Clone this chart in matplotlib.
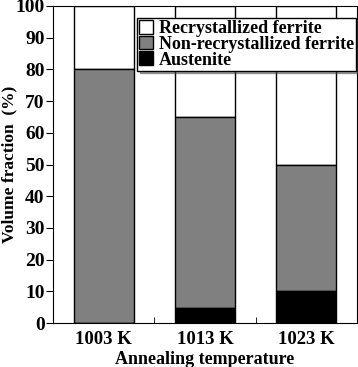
import matplotlib
matplotlib.use("Agg")
import matplotlib.pyplot as plt
import numpy as np

plt.rcParams['font.family'] = ['Liberation Serif', 'DejaVu Serif']
plt.rcParams['font.weight'] = 'bold'

temps = ['1003 K', '1013 K', '1023 K']
austenite = [0, 4.7, 10]
non_recryst = [80, 60.3, 40]
recryst = [20, 35, 50]

x = np.arange(len(temps))
w = 0.59

fig = plt.figure(figsize=(3.58, 3.67), dpi=100)
ax = fig.add_axes([53/358, 44/367, 304/358, 317/367])

aus = np.array(austenite)
non = np.array(non_recryst)
ax.bar(x, recryst, w, bottom=aus + non, color='white', edgecolor='black', lw=1, label='Recrystallized ferrite')
ax.bar(x, non_recryst, w, bottom=aus, color='#808080', edgecolor='black', lw=1, label='Non-recrystallized ferrite')
ax.bar(x, austenite, w, color='black', edgecolor='black', lw=1, label='Austenite')

ax.set_xlim(-0.5, 2.5)
ax.set_ylim(0, 100)
ax.set_yticks(range(0, 101, 10))
ax.set_xticks(x)
ax.set_xticklabels(temps)
ax.set_xticks([0.5, 1.5], minor=True)
ax.tick_params(axis='x', which='major', length=0, labelsize=13.5, pad=6)
ax.tick_params(axis='x', which='minor', direction='in', length=4)
ax.tick_params(axis='y', direction='out', length=5, labelsize=14, pad=1)
ax.set_xlabel('Annealing temperature', fontsize=13, fontweight='bold', labelpad=2)
ax.set_ylabel('Volume fraction  (%)', fontsize=12.5, fontweight='bold')
ax.yaxis.set_label_coords(-0.118, 0.5)

leg = ax.legend(loc='upper right', bbox_to_anchor=(1.0, 0.966), fontsize=13, frameon=True,
                fancybox=False, shadow=True, handlelength=0.8, handleheight=0.8,
                handletextpad=0.3, labelspacing=-0.08, borderpad=0.12, borderaxespad=0.05)
leg.get_frame().set_edgecolor('black')
leg.get_frame().set_linewidth(1)

fig.savefig('out.png', dpi=100)
